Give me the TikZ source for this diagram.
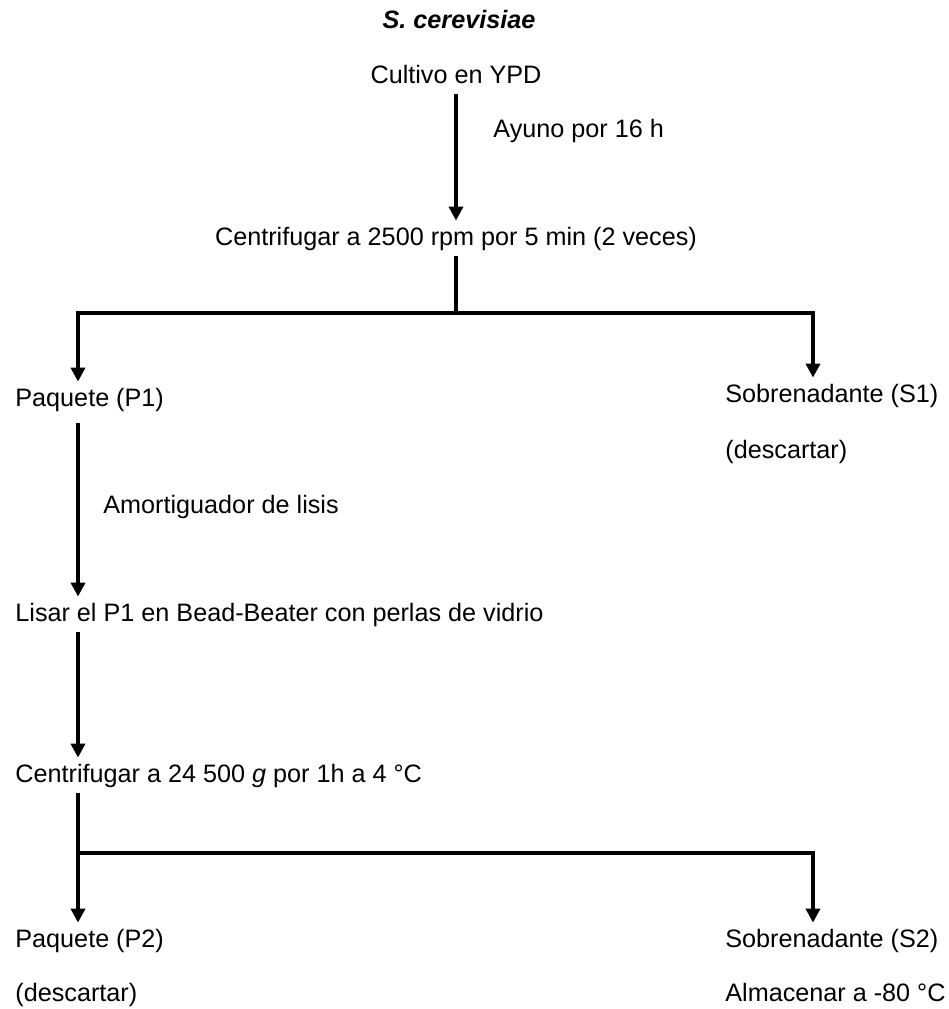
\documentclass[tikz,border=0pt]{standalone}
\usepackage{fontspec}
\setmainfont{Liberation Sans}
\usetikzlibrary{arrows.meta,positioning,calc}

\begin{document}
\begin{tikzpicture}[x=0.5pt, y=-0.5pt,
    txt/.style={inner xsep=0pt, inner ysep=3pt, text height=9pt, text depth=2.5pt,
                font=\fontsize{12.6}{15}\selectfont},
    flow/.style={line width=2pt, -{Triangle[width=7pt,length=7pt]}},
    bar/.style={line width=2pt}]
  \useasboundingbox (0,0) rectangle (949,1009);

  % Upper part: culture and first spin
  \node[txt, anchor=base, font=\fontsize{12.6}{15}\selectfont\bfseries\itshape] (title) at (459,28) {S. cerevisiae};
  \node[txt, anchor=base] (cultivo) at (456,83) {Cultivo en YPD};
  \node[txt, anchor=base west] (ayuno) at (493,137) {Ayuno por 16 h};
  \node[txt, anchor=base] (cent1) at (456,245) {Centrifugar a 2500 rpm por 5 min (2 veces)};
  \node[txt, anchor=base west] (p1) at (15,406) {Paquete (P1)};
  \node[txt, anchor=base west] (s1) at (725,402) {Sobrenadante (S1)};
  \node[txt, anchor=base west] (desc1) at (725,458) {(descartar)};

  % Lower part: lysis and second spin
  \node[txt, anchor=base west] (buffer) at (103,513) {Amortiguador de lisis};
  \node[txt, anchor=base west] (lisar) at (15,621) {Lisar el P1 en Bead-Beater con perlas de vidrio};
  \node[txt, anchor=base west] (cent2) at (15,782) {Centrifugar a 24 500 \textit{g} por 1h a 4 °C};
  \node[txt, anchor=base west] (p2) at (15,947) {Paquete (P2)};
  \node[txt, anchor=base west] (s2) at (725,947) {Sobrenadante (S2)};
  \node[txt, anchor=base west] (desc2) at (15,1001) {(descartar)};
  \node[txt, anchor=base west] (store) at (725,1001) {Almacenar a -80 °C};

  % Spines and split points
  \coordinate (xl) at (78,0);
  \coordinate (xr) at (813,0);
  \coordinate (split1) at (456,313);
  \coordinate (split2) at (78,853);

  % Connectors
  \draw[flow] (cultivo.south) -- (cent1.north);
  \draw[bar] (cent1.south -| split1) -- (split1);
  \draw[flow] (split1) -| (p1.north -| xl);
  \draw[flow] (split1) -| (s1.north -| xr);
  \draw[flow] ([yshift=-3pt]p1.south -| xl) -- (lisar.north -| xl);
  \draw[flow] (lisar.south -| xl) -- (cent2.north -| xl);
  \draw[flow] (cent2.south -| xl) -- (p2.north -| xl);
  \draw[flow] (split2) -| (s2.north -| xr);
\end{tikzpicture}
\end{document}
